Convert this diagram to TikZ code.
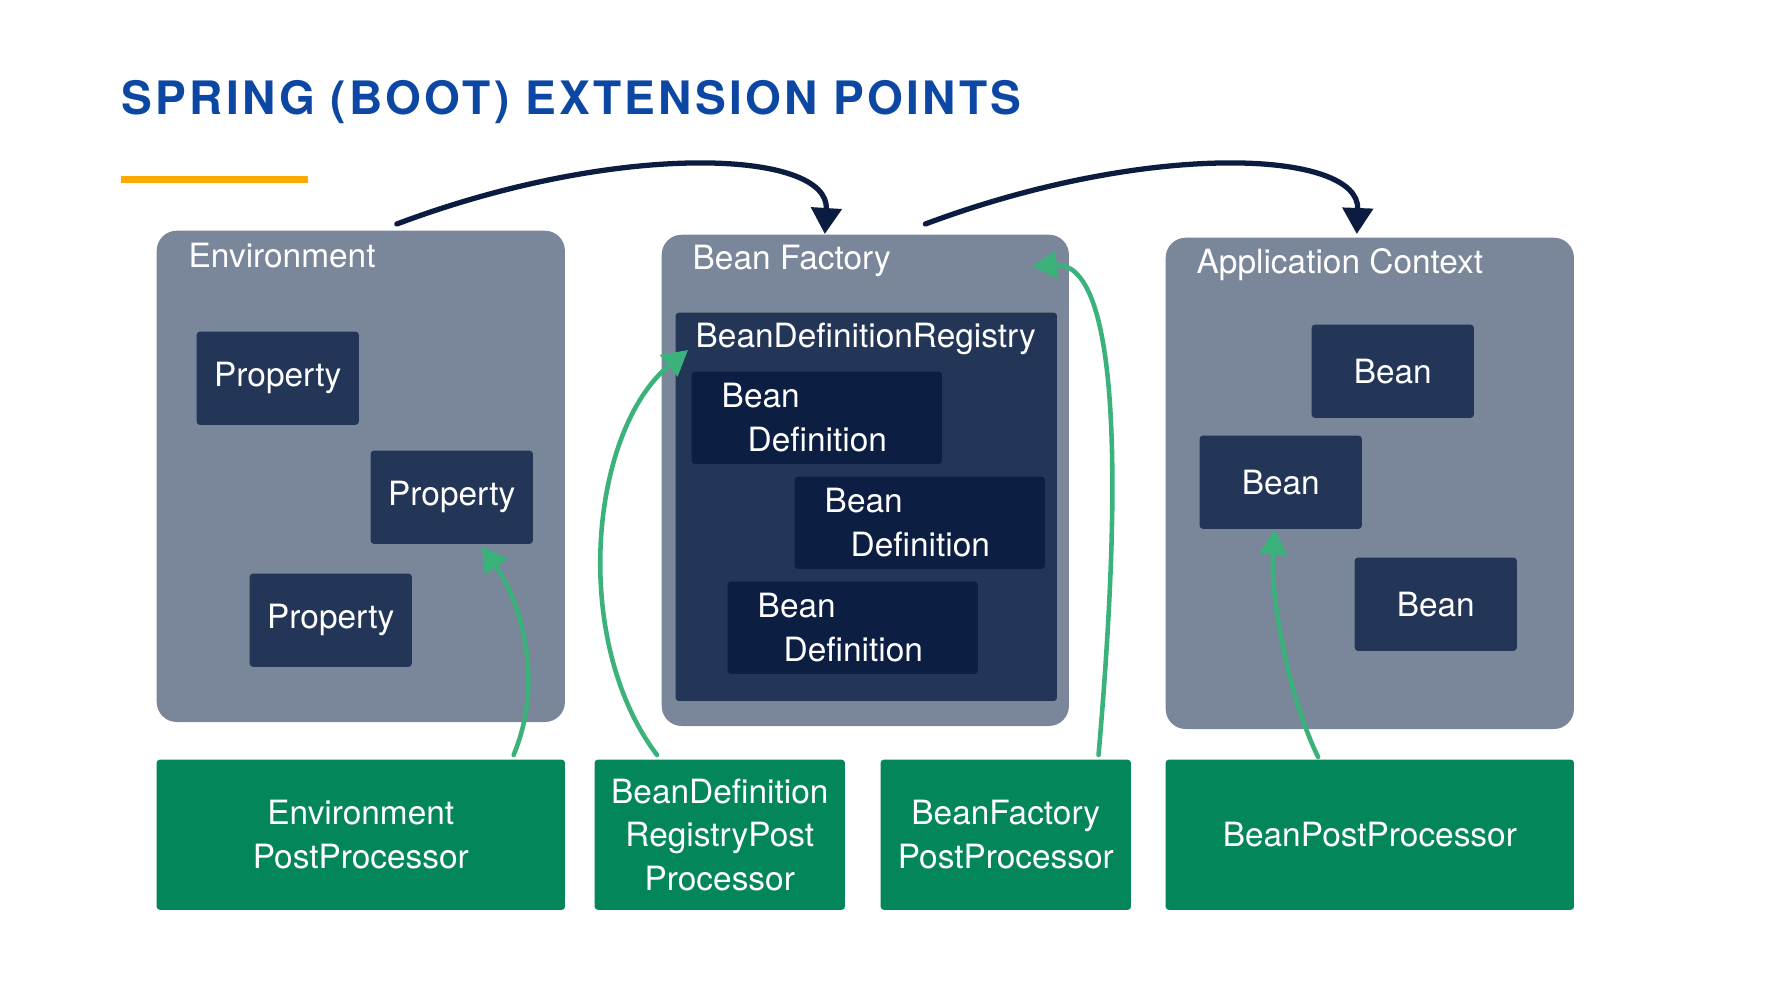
\documentclass[tikz,border=0pt]{standalone}
\usepackage{fontspec}
\setmainfont{TeX Gyre Heros}
\usepackage{tikz}
\usetikzlibrary{arrows.meta, positioning}
\definecolor{slate}{HTML}{7A8699}
\definecolor{navy}{HTML}{243657}
\definecolor{deepnavy}{HTML}{0C1E42}
\definecolor{procgreen}{HTML}{03875A}
\definecolor{arrowgreen}{HTML}{3BB27B}
\definecolor{arrowdark}{HTML}{0C1C40}
\definecolor{titleblue}{HTML}{0B47A3}
\definecolor{barorange}{HTML}{FFAA00}

\begin{document}
\begin{tikzpicture}[x=0.01cm, y=-0.01cm, font=\fontsize{9.5}{12.4}\selectfont,
  container/.style={fill=slate, rounded corners=0.2cm, anchor=north west, inner sep=0pt, minimum width=4.08cm, minimum height=4.91cm},
  heading/.style={anchor=base west, inner sep=0pt, text=white},
  item/.style={fill=navy, text=white, rounded corners=0.03cm, anchor=north west, minimum width=1.62cm, minimum height=0.93cm},
  defbox/.style={fill=deepnavy, text=white, rounded corners=0.03cm, anchor=north west, align=left, text width=1.9cm, inner xsep=0.3cm, inner ysep=0pt, minimum height=0.92cm},
  hook/.style={fill=procgreen, text=white, rounded corners=0.03cm, anchor=north west, align=center, minimum height=1.5cm},
  flow/.style={draw=arrowdark, line width=1.5pt, line cap=round, -{Triangle[length=0.26cm, width=0.3cm]}},
  hookarrow/.style={draw=arrowgreen, line width=1.3pt, line cap=round, -{Triangle[length=0.25cm, width=0.27cm]}}]

\useasboundingbox (0,0) rectangle (1775,996);

\node[anchor=base west, inner sep=0pt, text=titleblue, font=\fontsize{13.1}{16}\selectfont\bfseries\addfontfeature{LetterSpace=7}] (title) at (121,114) {SPRING (BOOT) EXTENSION POINTS};
\fill[barorange] (121,176) rectangle (308,183);

\node[container] (env) at (156,230) {};
\node[container, minimum width=4.07cm] (bf) at (661,234) {};
\node[container] (ac) at (1165,237) {};

\node[heading] (envtitle) at (188,267) {Environment};
\node[heading] (bftitle) at (692,269) {Bean Factory};
\node[heading] (actitle) at (1196,273) {Application Context};

\node[item] (prop1) at (196,331) {Property};
\node[item] (prop2) at (370,450) {Property};
\node[item] (prop3) at (249,573) {Property};

\node[fill=navy, rounded corners=0.03cm, anchor=north west, minimum width=3.81cm, minimum height=3.88cm] (bdr) at (675,312) {};
\node[heading] (bdrtitle) at (695,347) {BeanDefinitionRegistry};
\node[defbox] (def1) at (691,371) {Bean\\\hspace*{0.26cm}Definition};
\node[defbox] (def2) at (794,476) {Bean\\\hspace*{0.26cm}Definition};
\node[defbox] (def3) at (727,581) {Bean\\\hspace*{0.26cm}Definition};

\node[item] (bean1) at (1311,324) {Bean};
\node[item] (bean2) at (1199,435) {Bean};
\node[item] (bean3) at (1354,557) {Bean};

\node[hook, minimum width=4.08cm] (envpp) at (156,759) {Environment\\PostProcessor};
\node[hook, minimum width=2.5cm] (bdrpp) at (594,759) {BeanDefinition\\RegistryPost\\Processor};
\node[hook, minimum width=2.5cm] (bfpp) at (880,759) {BeanFactory\\PostProcessor};
\node[hook, minimum width=4.08cm] (bpp) at (1165,759) {BeanPostProcessor};

\draw[flow] ([xshift=0.36cm, yshift=0.06cm]env.north) .. controls (620,140) and (830,150) .. ([xshift=-0.405cm]bf.north);
\draw[flow] ([xshift=0.6cm, yshift=0.1cm]bf.north) .. controls (1150,140) and (1360,150) .. ([xshift=-0.13cm, yshift=0.03cm]ac.north);

\draw[hookarrow] ([xshift=-0.52cm, yshift=0.04cm]envpp.north east) .. controls (545,680) and (520,600) .. ([xshift=0.3cm, yshift=-0.02cm]prop2.south);
\draw[hookarrow] ([xshift=0.63cm, yshift=0.04cm]bdrpp.north west) .. controls (570,640) and (590,430) .. ([xshift=0.13cm, yshift=-0.38cm]bdr.north west);
\draw[hookarrow] ([xshift=-0.33cm, yshift=0.04cm]bfpp.north east) .. controls (1125,450) and (1115,262) .. ([xshift=-0.38cm, yshift=-0.32cm]bf.north east);
\draw[hookarrow] ([xshift=1.53cm, yshift=0.02cm]bpp.north west) .. controls (1290,700) and (1270,600) .. ([xshift=-0.06cm]bean2.south);

\end{tikzpicture}
\end{document}
